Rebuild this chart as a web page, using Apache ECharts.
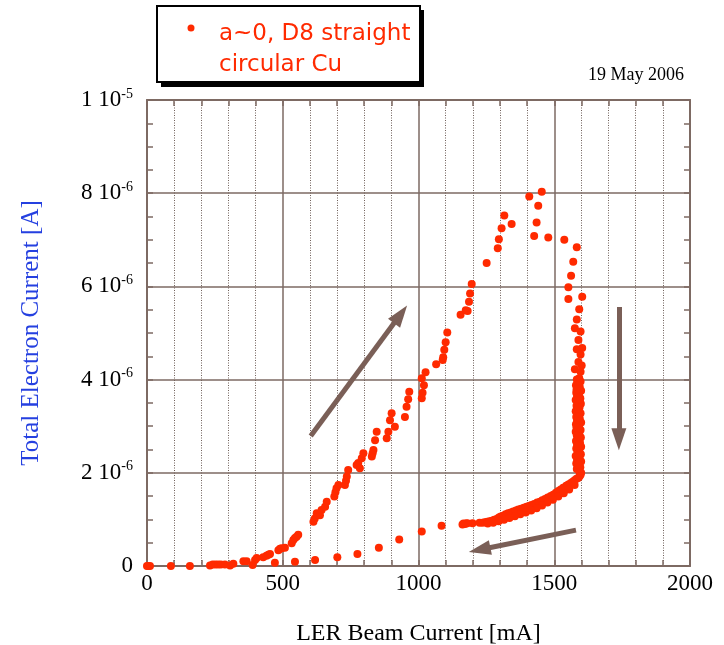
<!DOCTYPE html>
<html>
<head>
<meta charset="utf-8">
<script src="https://cdn.jsdelivr.net/npm/echarts@6/dist/echarts.min.js"></script>
<style>
  html, body { margin: 0; padding: 0; background: #fff; }
  #chart { width: 724px; height: 645px; }
</style>
</head>
<body>
<div id="chart"></div>
<script>
// Electron current (µA) versus LER beam current (mA), 19 May 2006.
const seriesName = 'a~0, D8 straight\ncircular Cu';
const dateStamp = '19 May 2006';
const xTitle = 'LER Beam Current [mA]';
const yTitle = 'Total Electron Current [A]';

// rising beam current, [mA, µA]
const rampUp = [
  [0,0],[4,0],[11,0],[88,0],[158,0],[232,0.01],[242,0.03],[252,0.03],[262,0.03],[272,0.03],
  [287,0.03],[306,0.01],[318,0.05],[355,0.1],[367,0.1],[389,0.02],[398,0.13],[404,0.17],
  [428,0.19],[440,0.22],[447,0.24],[453,0.26],[484,0.34],[490,0.37],[496,0.38],[508,0.39],
  [533,0.49],[539,0.56],[545,0.6],[551,0.63],[557,0.67],[613,0.95],[618,1.02],[625,1.13],
  [637,1.09],[643,1.2],[656,1.27],[662,1.38],[690,1.49],[694,1.58],[698,1.67],[705,1.74],
  [729,1.74],[733,1.83],[736,1.92],[741,2.06],[772,2.17],[778,2.21],[784,2.1],[791,2.31],
  [797,2.42],[828,2.35],[831,2.42],[834,2.49],[840,2.70],[846,2.88],[883,2.74],[889,2.88],
  [895,3.13],[901,3.28],[913,2.99],[950,3.20],[956,3.42],[962,3.58],[966,3.74],[1012,3.60],
  [1015,3.72],[1020,3.88],[1012,4.03],[1026,4.16],[1065,4.33],[1089,4.42],[1091,4.48],
  [1095,4.64],[1100,4.80],[1106,5.01],[1155,5.39],[1174,5.49],[1181,5.47],[1186,5.67],
  [1190,5.85],[1196,6.05],[1251,6.50],[1292,6.82],[1296,7.01],[1306,7.25],[1316,7.52],[1343,7.34]
];

// peak and the fall at constant beam current
const peakAndFall = [
  [1408,7.93],[1454,8.03],[1441,7.73],[1435,7.37],[1426,7.08],[1478,7.05],[1537,7.0],
  [1583,6.84],[1570,6.53],[1562,6.23],[1552,5.98],[1552,5.73],[1603,5.78],[1592,5.51],
  [1583,5.29],[1576,5.10],[1597,5.03],[1589,4.85],[1583,4.65],[1603,4.68],[1597,4.54],
  [1589,4.38],[1601,4.30],[1576,4.22],[1597,4.17],[1592,4.03]
];

// dense stretch near 1590 mA
const plateau = [
  [1583,4.00],[1597,3.96],[1588,3.92],[1580,3.88],[1594,3.84],[1585,3.80],[1599,3.76],
  [1581,3.72],[1591,3.68],[1584,3.64],[1596,3.60],[1579,3.56],[1590,3.52],[1598,3.48],
  [1582,3.44],[1593,3.40],[1586,3.36],[1579,3.32],[1597,3.28],[1588,3.24],[1581,3.20],
  [1594,3.16],[1584,3.12],[1599,3.08],[1580,3.04],[1591,3.00],[1585,2.96],[1597,2.92],
  [1579,2.88],[1592,2.84],[1583,2.80],[1598,2.76],[1587,2.72],[1580,2.68],[1595,2.64],
  [1584,2.60],[1599,2.56],[1581,2.52],[1592,2.48],[1586,2.44],[1598,2.40],[1579,2.36],
  [1593,2.32],[1584,2.28],[1599,2.24],[1581,2.20],[1590,2.16],[1596,2.12],[1583,2.08],
  [1592,2.04],[1589,3.98],[1582,3.78],[1595,3.58],[1587,3.38],[1590,3.18],[1582,2.98],
  [1593,2.78],[1586,2.58],[1589,2.38],[1587,2.18],[1599,2.00]
];

// decay as the beam current drops
const decayCurve = [
  [1597,1.96],[1593,1.92],[1588,1.89],[1582,1.87],[1575,1.84],[1568,1.81],[1561,1.78],
  [1552,1.75],[1544,1.72],[1533,1.68],[1524,1.64],[1515,1.61],[1506,1.57],[1496,1.53],
  [1487,1.50],[1476,1.47],[1466,1.44],[1456,1.41],[1447,1.38],[1437,1.36],[1426,1.33],
  [1416,1.31],[1407,1.29],[1398,1.27],[1388,1.25],[1378,1.23],[1368,1.21],[1359,1.19],
  [1349,1.17],[1340,1.15],[1330,1.13],[1321,1.11],[1312,1.08],[1303,1.06],[1296,1.04],
  [1288,1.01],[1279,0.99],[1270,0.97],[1262,0.96],[1253,0.95],[1244,0.94],[1236,0.93],
  [1225,0.93],[1199,0.92],[1180,0.92],[1175,0.91],[1170,0.90],[1166,0.91],[1162,0.89],
  [1575,1.74],[1555,1.64],[1535,1.56],[1515,1.49],[1495,1.42],[1475,1.36],[1455,1.30],
  [1435,1.24],[1415,1.19],[1395,1.15],[1375,1.11],[1355,1.07],[1335,1.03],[1315,0.99],
  [1295,0.96],[1275,0.93],[1255,0.91]
];

// sparse tail back towards zero
const returnBranch = [
  [1085,0.865],[1012,0.74],[929,0.57],[854,0.39],[775,0.26],[701,0.19],[619,0.13],[545,0.09],[471,0.07]
];

// direction arrows, [mA, µA] start and end
const arrowUp = [[603,2.79],[934,5.40]];
const arrowDown = [[1738,5.56],[1738,2.72]];
const arrowBack = [[1580,0.77],[1225,0.35]];

const xTicks = { min: 0, max: 2000, step: 500 };
const yTicks = { min: 0, max: 10, step: 2 };

const FRAME = '#7d6a63';
const DOT = '#ff2a00';
const ARROW = '#7a5f57';
const SERIF = '"Liberation Serif", "Times New Roman", serif';

function yLabel(v) {
  if (v === 0) return '{n|0}';
  if (v === 10) return '{n|1 10}{s|-5}';
  return '{n|' + v + ' 10}{s|-6}';
}

const frameAxis = {
  axisLine: { show: true, onZero: false, lineStyle: { color: FRAME, width: 2 } },
  axisTick: { show: true, inside: true, length: 6, lineStyle: { color: FRAME, width: 1.5 } }
};

const chart = echarts.init(document.getElementById('chart'), null, { renderer: 'canvas' });
chart.setOption({
  animation: false,
  backgroundColor: '#fff',
  grid: { left: 147, top: 100, right: 34, bottom: 79, containLabel: false, outerBoundsMode: 'none' },
  xAxis: [
    Object.assign({
      type: 'value', position: 'bottom',
      min: xTicks.min, max: xTicks.max, interval: xTicks.step,
      minorTick: { show: true, splitNumber: 5, length: 6, lineStyle: { color: FRAME, width: 1.5 } },
      splitLine: { show: true, lineStyle: { color: FRAME, width: 1.5 } },
      minorSplitLine: { show: true, lineStyle: { color: '#6f5f59', width: 1, type: [1, 1.5] } },
      axisLabel: { color: '#000', fontFamily: SERIF, fontSize: 23, margin: 6, formatter: v => String(v) },
      name: xTitle, nameLocation: 'middle', nameGap: 56,
      nameTextStyle: { color: '#000', fontFamily: SERIF, fontSize: 24 }
    }, frameAxis),
    Object.assign({
      type: 'value', position: 'top',
      min: xTicks.min, max: xTicks.max, interval: xTicks.step,
      minorTick: { show: true, splitNumber: 5, length: 6, lineStyle: { color: FRAME, width: 1.5 } },
      splitLine: { show: false }, axisLabel: { show: false }
    }, frameAxis)
  ],
  yAxis: [
    Object.assign({
      type: 'value', position: 'left',
      min: yTicks.min, max: yTicks.max, interval: yTicks.step,
      minorTick: { show: true, splitNumber: 4, length: 6, lineStyle: { color: FRAME, width: 1.5 } },
      splitLine: { show: true, lineStyle: { color: FRAME, width: 1.5 } },
      axisLabel: {
        margin: 14, formatter: yLabel,
        rich: {
          n: { color: '#000', fontFamily: SERIF, fontSize: 23, lineHeight: 26 },
          s: { color: '#000', fontFamily: SERIF, fontSize: 14, verticalAlign: 'top', lineHeight: 26, padding: [0, 0, 11, 0] }
        }
      },
      name: yTitle, nameLocation: 'middle', nameGap: 103,
      nameTextStyle: { color: '#2540e0', fontFamily: SERIF, fontSize: 25 }
    }, frameAxis),
    Object.assign({
      type: 'value', position: 'right',
      min: yTicks.min, max: yTicks.max, interval: yTicks.step,
      minorTick: { show: true, splitNumber: 4, length: 6, lineStyle: { color: FRAME, width: 1.5 } },
      splitLine: { show: false }, axisLabel: { show: false }
    }, frameAxis)
  ],
  series: [{
    name: seriesName,
    type: 'scatter',
    xAxisIndex: 0, yAxisIndex: 0,
    symbol: 'circle', symbolSize: 8,
    itemStyle: { color: DOT, opacity: 1 },
    emphasis: { disabled: true },
    data: [].concat(rampUp, peakAndFall, plateau, decayCurve, returnBranch),
    markLine: {
      silent: true, animation: false,
      symbol: ['none', 'triangle'], symbolSize: [15, 22],
      label: { show: false },
      emphasis: { disabled: true },
      lineStyle: { color: ARROW, width: 5, type: 'solid', opacity: 1 },
      data: [arrowUp, arrowDown, arrowBack].map(a => [{ coord: a[0] }, { coord: a[1] }])
    }
  }],
  graphic: [
    { type: 'rect', shape: { x: 161, y: 10, width: 263, height: 77 }, style: { fill: '#000' } },
    { type: 'rect', shape: { x: 157, y: 6, width: 263, height: 76 }, style: { fill: '#fff', stroke: '#000', lineWidth: 2 } },
    { type: 'circle', shape: { cx: 191, cy: 28, r: 3.5 }, style: { fill: DOT } },
    { type: 'text', x: 219, y: 18.5, style: {
        text: seriesName, fill: DOT, font: '23px "DejaVu Sans", sans-serif',
        lineHeight: 31, verticalAlign: 'top', align: 'left' } },
    { type: 'text', x: 588, y: 75, style: {
        text: dateStamp, fill: '#000', font: '18px ' + SERIF,
        verticalAlign: 'middle', align: 'left' } }
  ]
});
</script>
</body>
</html>
